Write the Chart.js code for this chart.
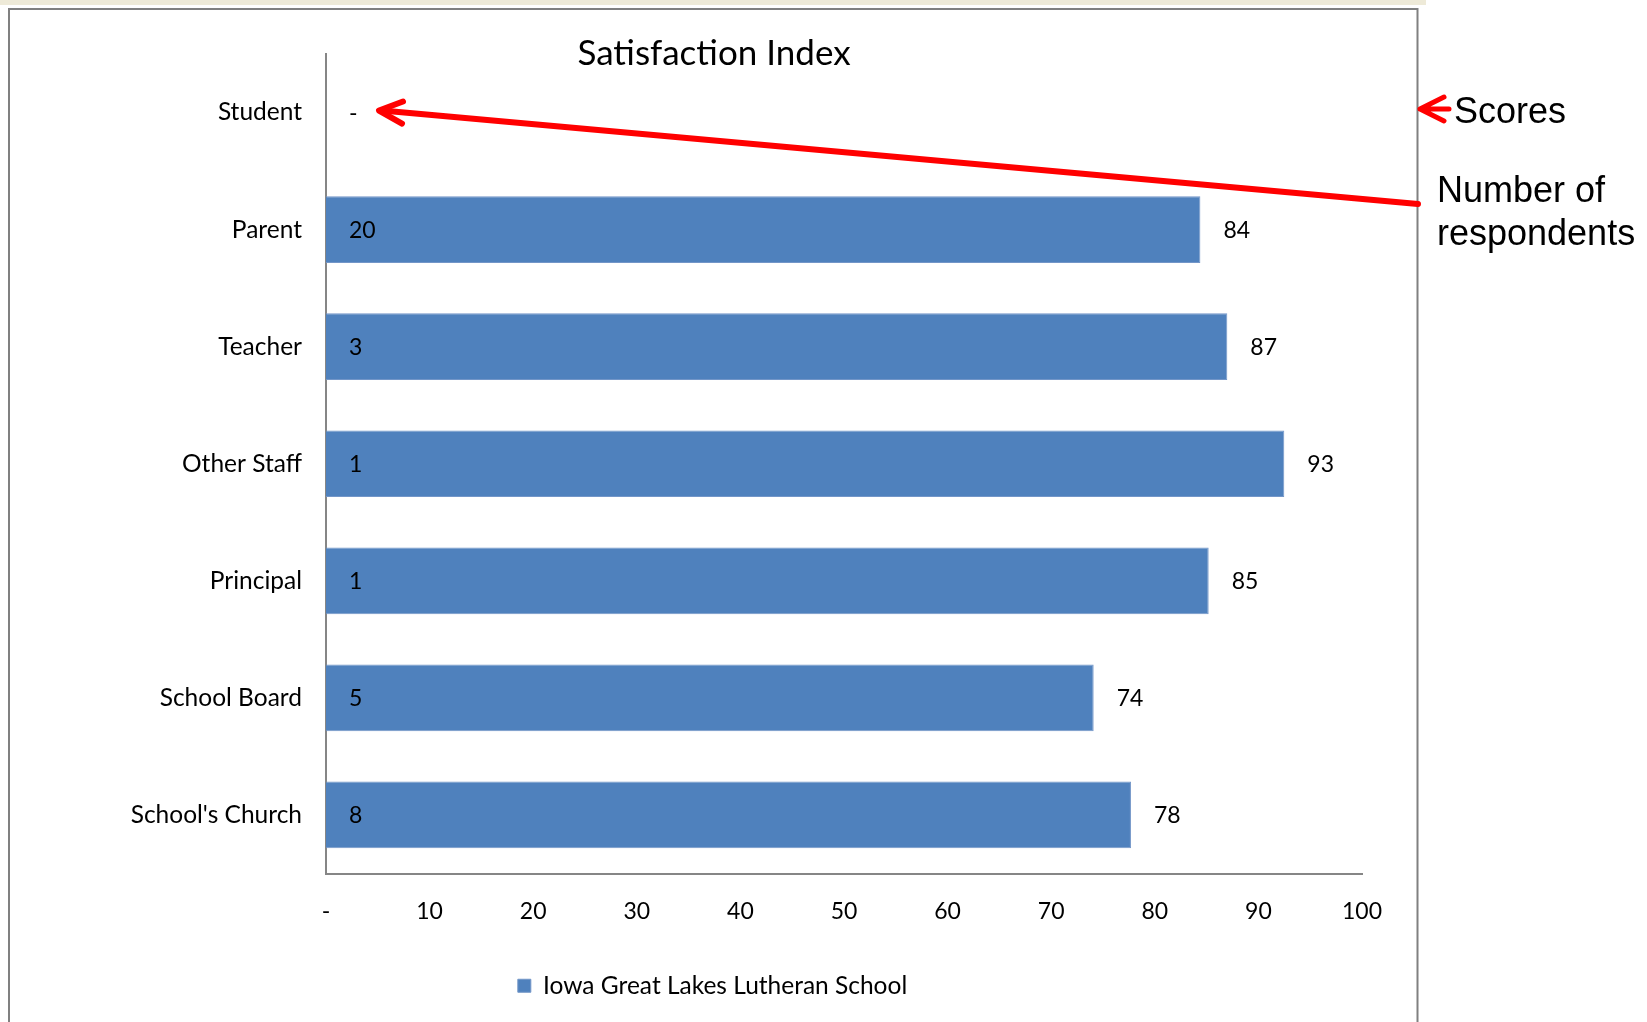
<!DOCTYPE html>
<html lang="en">
<head>
<meta charset="utf-8">
<title>Satisfaction Index</title>
<script src="https://cdn.jsdelivr.net/npm/chart.js@4.4.1/dist/chart.umd.min.js"></script>
<style>
    body { margin: 0; background: #ffffff; }
    #wrap { position: relative; width: 1647px; height: 1022px; }
</style>
</head>
<body>
<div id="wrap">
    <canvas id="myChart" width="1647" height="1022"></canvas>
</div>
<script>
    // data
    const categories = ['Student', 'Parent', 'Teacher', 'Other Staff', 'Principal', 'School Board', "School's Church"];
    const scores = [null, 84.4, 87.0, 92.5, 85.2, 74.1, 77.7];
    const respondents = ['-', 20, 3, 1, 1, 5, 8];
    const seriesName = 'Iowa Great Lakes Lutheran School';
    const xMin = 0, xMax = 100, xStep = 10;

    const barBlue = '#4f81bd';
    const textFont = 'Lato';

    // title, value labels, outer frame and the red notes
    const extras = {
        id: 'extras',
        beforeDraw(chart) {
            let ctx = chart.ctx;
            ctx.save();
            ctx.fillStyle = '#eeead8';
            ctx.fillRect(0, 0, 1426, 5);
            ctx.strokeStyle = '#808080';
            ctx.lineWidth = 2;
            ctx.beginPath();
            ctx.moveTo(9, 1030);
            ctx.lineTo(9, 9);
            ctx.lineTo(1417.5, 9);
            ctx.lineTo(1417.5, 1030);
            ctx.stroke();
            ctx.restore();
        },
        afterDatasetsDraw(chart) {
            let ctx = chart.ctx;
            let xs = chart.scales.x, ys = chart.scales.y;
            let base = xs.getPixelForValue(0);
            ctx.save();
            ctx.font = '23px ' + textFont;
            ctx.fillStyle = '#000000';
            ctx.textBaseline = 'middle';
            ctx.textAlign = 'left';
            for (let i = 0; i < categories.length; i++) {
                let y = ys.getPixelForValue(i) + 1;
                ctx.fillText(String(respondents[i]), base + 23, y);
                if (scores[i] !== null) {
                    ctx.fillText(String(Math.round(scores[i])), xs.getPixelForValue(scores[i]) + 23, y);
                }
            }
            ctx.restore();
        },
        afterDraw(chart) {
            let ctx = chart.ctx;
            let xs = chart.scales.x, ys = chart.scales.y;
            ctx.save();
            // title
            ctx.font = '35px ' + textFont;
            ctx.fillStyle = '#000000';
            ctx.textAlign = 'center';
            ctx.textBaseline = 'middle';
            ctx.fillText('Satisfaction Index', 714, 54);

            // long arrow pointing at the respondents label
            let tipX = xs.getPixelForValue(0) + 53;
            let tipY = ys.getPixelForValue(0) - 2;
            ctx.strokeStyle = '#ff0000';
            ctx.lineWidth = 6;
            ctx.lineCap = 'round';
            ctx.lineJoin = 'round';
            ctx.beginPath();
            ctx.moveTo(1418, 204);
            ctx.lineTo(tipX + 3, tipY);
            ctx.stroke();
            ctx.beginPath();
            ctx.moveTo(tipX + 24, tipY - 9);
            ctx.lineTo(tipX, tipY);
            ctx.lineTo(tipX + 23, tipY + 13);
            ctx.stroke();

            // small arrow next to "Scores"
            ctx.lineWidth = 5;
            ctx.beginPath();
            ctx.moveTo(1444, 97);
            ctx.lineTo(1420, 109);
            ctx.lineTo(1444, 121);
            ctx.moveTo(1420, 109);
            ctx.lineTo(1449, 109);
            ctx.stroke();

            ctx.fillStyle = '#000000';
            ctx.font = '36px "Liberation Sans", Arial, sans-serif';
            ctx.textAlign = 'left';
            ctx.textBaseline = 'alphabetic';
            ctx.fillText('Scores', 1454, 123);
            ctx.fillText('Number of', 1437, 202);
            ctx.fillText('respondents', 1437, 245);
            ctx.restore();
        }
    };

    var ctx = document.getElementById('myChart');
    var myChart = new Chart(ctx, {
        type: 'bar',
        data: {
            labels: categories,
            datasets: [{
                label: seriesName,
                data: scores,
                backgroundColor: barBlue,
                borderColor: '#7396c8',
                borderWidth: 1,
                categoryPercentage: 1.0,
                barPercentage: 0.57,
                xAxisID: 'x',
                yAxisID: 'y'
            }]
        },
        options: {
            indexAxis: 'y',
            responsive: false,
            animation: false,
            layout: { padding: { top: 54, left: 8, right: 230, bottom: 14 } },
            plugins: {
                title: { display: false },
                tooltip: { enabled: false },
                legend: {
                    display: true,
                    position: 'bottom',
                    labels: {
                        font: { family: textFont, size: 24.5 },
                        color: '#000000',
                        boxWidth: 13,
                        boxHeight: 13,
                        padding: 10
                    }
                }
            },
            scales: {
                x: {
                    type: 'linear',
                    position: 'bottom',
                    min: xMin,
                    max: xMax,
                    grid: { display: false, drawTicks: false },
                    border: { display: true, color: '#868686', width: 2 },
                    ticks: {
                        stepSize: xStep,
                        padding: 24,
                        color: '#000000',
                        font: { family: textFont, size: 23 },
                        callback: function (value) { return value === 0 ? '-' : value; }
                    },
                    afterFit: function (scale) { scale.height = 90; }
                },
                y: {
                    type: 'category',
                    position: 'left',
                    grid: { display: false, drawTicks: false },
                    border: { display: true, color: '#868686', width: 2 },
                    ticks: {
                        padding: 24,
                        color: '#000000',
                        font: { family: textFont, size: 24.5 }
                    },
                    afterFit: function (scale) { scale.width = 318; }
                },
                y2: {
                    type: 'linear',
                    axis: 'y',
                    position: 'right',
                    display: true,
                    grid: { display: false, drawTicks: false },
                    border: { display: false },
                    ticks: { display: false },
                    afterFit: function (scale) { scale.width = 55; }
                }
            }
        },
        plugins: [extras]
    });
</script>
</body>
</html>
